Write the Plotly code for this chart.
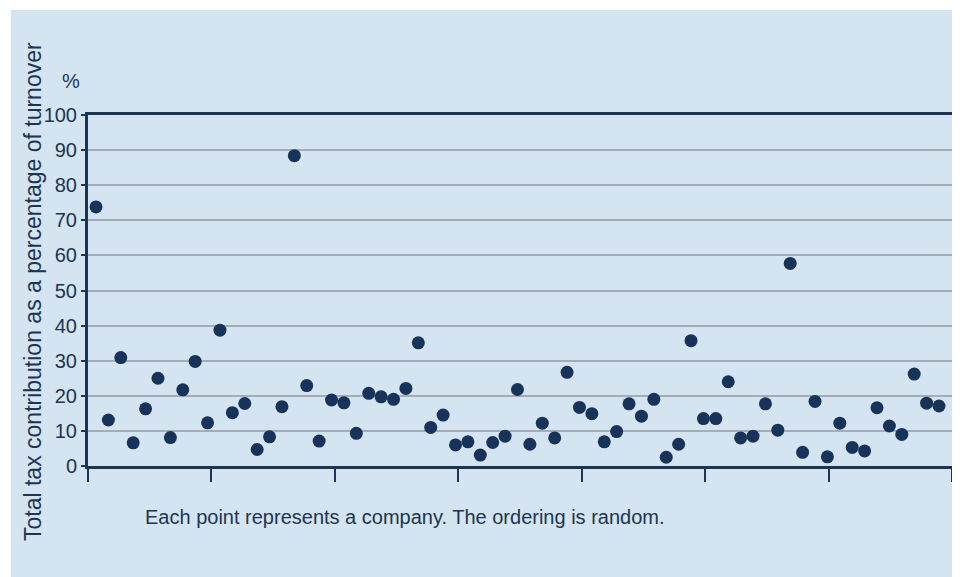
import plotly.graph_objects as go

# company index (ordering is random) and tax contribution as % of turnover
company = list(range(1, 70))
tax_pct = [73.8, 13.1, 30.9, 6.6, 16.3, 25.0, 8.1, 21.7, 29.8, 12.3,
           38.7, 15.2, 17.8, 4.7, 8.3, 16.9, 88.4, 22.9, 7.1, 18.8,
           18.0, 9.3, 20.7, 19.7, 19.0, 22.1, 35.1, 11.0, 14.5, 6.0,
           6.9, 3.1, 6.7, 8.5, 21.8, 6.2, 12.2, 8.0, 26.7, 16.7,
           14.9, 6.9, 9.8, 17.7, 14.2, 19.0, 2.5, 6.2, 35.7, 13.5,
           13.5, 24.0, 8.0, 8.5, 17.7, 10.2, 57.7, 3.9, 18.4, 2.6,
           12.2, 5.3, 4.3, 16.6, 11.4, 9.0, 26.2, 17.9, 17.1]
y_ticks = list(range(0, 101, 10))

navy = '#1b3553'
dot = '#17335a'
panel = '#d5e4f1'
grid = '#a3adb8'
font = 'Liberation Sans, Arial, sans-serif'

# the page body adds an 8px margin, so lay out in window pixels minus 8
OFF = 8
W, H = 960 - OFF, 577 - OFF
L, R, T, B = 88, 952, 115, 466
pw, ph = R - L, B - T

def px(x):
    return (x - L) / pw

def py(y):
    return (B - y) / ph

fig = go.Figure(go.Scatter(x=company, y=tax_pct, mode='markers',
                           marker=dict(size=13, color=dot),
                           hoverinfo='y'))

fig.update_layout(
    width=W, height=H,
    margin=dict(l=L - OFF, r=960 - R - 3, t=T - OFF, b=577 - B),
    paper_bgcolor='white', plot_bgcolor='white',
    showlegend=False,
    font=dict(family=font, color=navy),
    shapes=[dict(type='rect', xref='paper', yref='paper', layer='below',
                 x0=px(11), x1=px(955), y0=py(577), y1=py(10),
                 fillcolor=panel, line=dict(width=0))],
    annotations=[
        dict(text='Total tax contribution as a percentage of turnover',
             xref='paper', yref='paper', x=px(33), y=py(292), textangle=-90,
             showarrow=False, font=dict(size=23, color=navy),
             xanchor='center', yanchor='middle'),
        dict(text='%', xref='paper', yref='paper', x=px(71), y=py(81),
             showarrow=False, font=dict(size=20, color=navy),
             xanchor='center', yanchor='middle'),
        dict(text='Each point represents a company. The ordering is random.',
             xref='paper', yref='paper', x=px(143), y=py(517),
             showarrow=False, font=dict(size=20, color=navy),
             xanchor='left', yanchor='middle'),
    ],
)

fig.update_xaxes(range=[0.355, 70.05], tickmode='linear', tick0=0.355, dtick=9.956,
                 showticklabels=False, ticks='outside', ticklen=13, tickwidth=2,
                 tickcolor=navy, showgrid=False, zeroline=False,
                 showline=True, linecolor=navy, linewidth=3, mirror=True)
fig.update_yaxes(range=[0, 100], tickvals=y_ticks, ticks='outside', ticklen=4,
                 tickwidth=2, tickcolor=navy, tickfont=dict(size=20, color=navy),
                 showgrid=True, gridcolor=grid, gridwidth=1.5, zeroline=False,
                 showline=True, linecolor=navy, linewidth=3, mirror=True)

fig.write_html("out.html")
